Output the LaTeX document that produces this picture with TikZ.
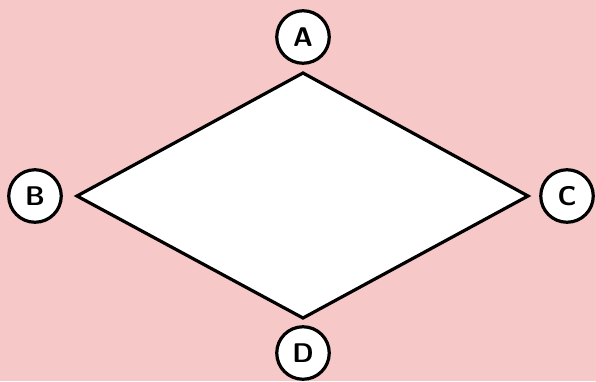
\documentclass[tikz,border=0pt]{standalone}
\definecolor{bgpink}{RGB}{246,200,200}
\begin{document}
\begin{tikzpicture}[x=1pt,y=-1pt,
  lbl/.style={circle,draw=black,line width=3.2pt,fill=white,minimum size=52.5pt,inner sep=0pt,
    font=\fontsize{27}{30}\selectfont\sffamily\bfseries},
  shapeline/.style={draw=black,line width=3.2pt,fill=white,line join=miter}]
\fill[bgpink] (0,0) rectangle (596,381);
\useasboundingbox (0,0) rectangle (596,381);
\coordinate (t) at (303,73);
\coordinate (l) at (77,196);
\coordinate (r) at (528,196);
\coordinate (b) at (303,318);
\path[shapeline] (t) -- (r) -- (b) -- (l) -- cycle;
\node[lbl] (A) at (303,37) {A};
\node[lbl] (B) at (35,196) {B};
\node[lbl] (C) at (567,196) {C};
\node[lbl] (D) at (303,353) {D};
\end{tikzpicture}
\end{document}
